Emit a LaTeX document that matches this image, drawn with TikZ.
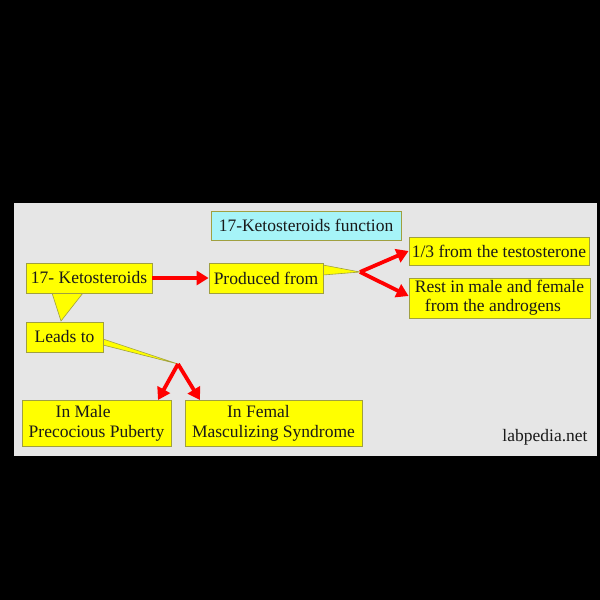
\documentclass[tikz,border=0pt]{standalone}
\usepackage{fontspec}
\setmainfont{Liberation Serif}
\usetikzlibrary{arrows.meta}
\definecolor{panelgrey}{HTML}{E6E6E6}
\definecolor{boxyellow}{HTML}{FFFF00}
\definecolor{boxedge}{HTML}{A0A040}
\definecolor{boxcyan}{HTML}{A6F4F8}
\definecolor{txt}{HTML}{1A1A1A}
\tikzset{
  ybox/.style={draw=boxedge, fill=boxyellow, line width=0.8pt, inner sep=0pt, text=txt, font=\fontsize{17.5}{20}\selectfont, align=center},
  cbox/.style={ybox, fill=boxcyan, draw=boxedge},
  tail/.style={draw=boxedge, fill=boxyellow, line width=0.6pt},
  redarrow/.style={draw=red, line width=3.8pt, -{Triangle[length=12pt,width=14pt]}}
}
\begin{document}
\begin{tikzpicture}[x=1pt,y=-1pt]
\useasboundingbox (0,0) rectangle (600,600);
\fill[black] (0,0) rectangle (600,600);
\fill[panelgrey] (14,203) rectangle (597,456);

% title
\node[cbox, minimum width=190pt, minimum height=29pt] (title) at (306,225.5) {17-Ketosteroids function};

% callout tails
\coordinate (ktip) at (61,321);
\coordinate (ltip) at (178,364);
\coordinate (ptip) at (360,272);
\filldraw[tail] (52,293) -- (ktip) -- (83,293) -- cycle;
\filldraw[tail] (103,339) -- (ltip) -- (103,345) -- cycle;
\filldraw[tail] (323,265) -- (ptip) -- (323,275) -- cycle;

% boxes
\node[ybox, minimum width=126pt, minimum height=30pt] (keto) at (89,278) {17- Ketosteroids};
\node[ybox, minimum width=77pt, minimum height=30pt] (leads) at (64.5,337) {Leads to};
\node[ybox, minimum width=114pt, minimum height=30pt] (prod) at (266,278) {Produced from};
\node[ybox, minimum width=180pt, minimum height=28pt] (third) at (499,251) {1/3 from the testosterone};
\node[ybox, minimum width=181pt, minimum height=40pt, align=left, font=\fontsize{17.5}{19}\selectfont] (rest) at (499.5,298) {Rest in male and female\\\hspace*{10pt}from the androgens};
\node[ybox, minimum width=149pt, minimum height=46pt, align=left] (male) at (96.5,423) {\hspace*{27pt}In Male\\Precocious Puberty};
\node[ybox, minimum width=177pt, minimum height=46pt, align=left] (femal) at (273.5,423) {\hspace*{35pt}In Femal\\Masculizing Syndrome};

% arrows
\draw[redarrow] (keto.east) -- (prod.west);
\draw[redarrow] (ptip) -- (third.west);
\draw[redarrow] (ptip) -- (rest.west |- 0,296) coordinate (rw);
\draw[redarrow] (ltip) -- (158,400) coordinate (mw);
\draw[redarrow] (ltip) -- (200,400) coordinate (fw);

% watermark
\node[text=txt, font=\fontsize{17.5}{20}\selectfont, inner sep=0pt] (lab) at (545,437) {labpedia.net};
\end{tikzpicture}
\end{document}
